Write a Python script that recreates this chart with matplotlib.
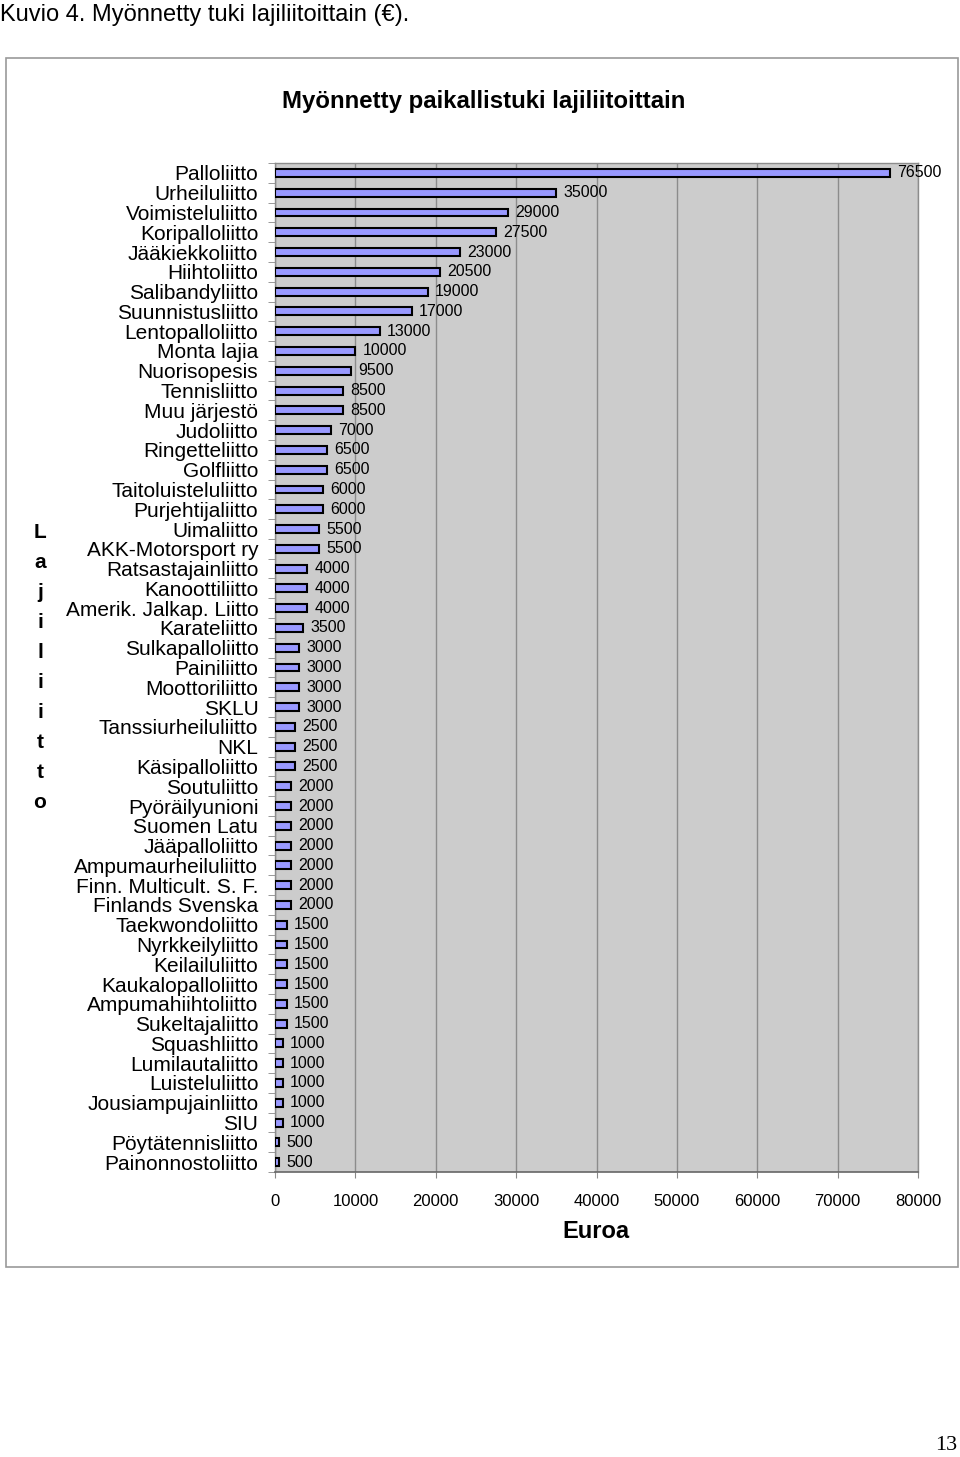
import matplotlib.pyplot as plt
import numpy as np
from matplotlib.patches import Rectangle

plt.rcParams["font.family"] = ["Liberation Sans", "DejaVu Sans"]

liitot = [
    "Palloliitto", "Urheiluliitto", "Voimisteluliitto", "Koripalloliitto",
    "Jääkiekkoliitto", "Hiihtoliitto", "Salibandyliitto", "Suunnistusliitto",
    "Lentopalloliitto", "Monta lajia", "Nuorisopesis", "Tennisliitto",
    "Muu järjestö", "Judoliitto", "Ringetteliitto", "Golfliitto",
    "Taitoluisteluliitto", "Purjehtijaliitto", "Uimaliitto", "AKK-Motorsport ry",
    "Ratsastajainliitto", "Kanoottiliitto", "Amerik. Jalkap. Liitto", "Karateliitto",
    "Sulkapalloliitto", "Painiliitto", "Moottoriliitto", "SKLU",
    "Tanssiurheiluliitto", "NKL", "Käsipalloliitto", "Soutuliitto",
    "Pyöräilyunioni", "Suomen Latu", "Jääpalloliitto", "Ampumaurheiluliitto",
    "Finn. Multicult. S. F.", "Finlands Svenska", "Taekwondoliitto", "Nyrkkeilyliitto",
    "Keilailuliitto", "Kaukalopalloliitto", "Ampumahiihtoliitto", "Sukeltajaliitto",
    "Squashliitto", "Lumilautaliitto", "Luisteluliitto", "Jousiampujainliitto",
    "SIU", "Pöytätennisliitto", "Painonnostoliitto",
]
tuki = [
    76500, 35000, 29000, 27500, 23000, 20500, 19000, 17000,
    13000, 10000, 9500, 8500, 8500, 7000, 6500, 6500,
    6000, 6000, 5500, 5500, 4000, 4000, 4000, 3500,
    3000, 3000, 3000, 3000, 2500, 2500, 2500, 2000,
    2000, 2000, 2000, 2000, 2000, 2000, 1500, 1500,
    1500, 1500, 1500, 1500, 1000, 1000, 1000, 1000,
    1000, 500, 500,
]
x_ticks = [0, 10000, 20000, 30000, 40000, 50000, 60000, 70000, 80000]


def main() -> None:
    fig = plt.figure(figsize=(9.6, 14.57), dpi=100)
    fig.patch.set_facecolor("white")

    # chart frame
    fig.patches.append(Rectangle((0.00625, 0.1304), 0.9917, 0.8298, transform=fig.transFigure,
                                 fill=False, edgecolor="#9a9a9a", linewidth=1.2))

    ax = fig.add_axes([0.2865, 0.1956, 0.6698, 0.6925])
    ax.set_facecolor("#cccccc")

    y = np.arange(len(liitot))
    ax.barh(y, tuki, height=0.4, color="#9999ff", edgecolor="black", linewidth=1.5, zorder=3)
    for yi, v in zip(y, tuki):
        ax.annotate(f"{v}", (v, yi), xytext=(5, 0), textcoords="offset points",
                    va="center", ha="left", fontsize=11.5, zorder=4)

    ax.set_xlim(0, 80000)
    ax.set_ylim(len(liitot) - 0.5, -0.5)
    ax.set_xticks(x_ticks)
    ax.set_xticklabels([str(t) for t in x_ticks], fontsize=12)
    ax.set_yticks(y)
    ax.set_yticklabels(liitot, fontsize=15)
    ax.set_yticks(np.arange(len(liitot) + 1) - 0.5, minor=True)
    ax.tick_params(axis="y", which="major", length=0, pad=12)
    ax.tick_params(axis="y", which="minor", length=5, color="#888888", direction="out")
    ax.tick_params(axis="x", length=4, color="#888888", pad=12)

    ax.grid(axis="x", color="#8c8c8c", linewidth=1.0, zorder=1)
    ax.set_axisbelow(True)
    for side in ["top", "right", "left"]:
        ax.spines[side].set_color("#8c8c8c")
        ax.spines[side].set_linewidth(1.0)
    ax.spines["bottom"].set_color("#666666")
    ax.spines["bottom"].set_linewidth(1.2)

    fig.text(0.504, 0.930, "Myönnetty paikallistuki lajiliitoittain", ha="center", va="center",
             fontsize=17.3, fontweight="bold")
    fig.text(0.621, 0.155, "Euroa", ha="center", va="center", fontsize=17, fontweight="bold")
    fig.text(0.0417, 0.5419, "\n".join("Lajiliitto"), ha="center", va="center",
             fontsize=15, fontweight="bold", linespacing=1.74)

    fig.text(0.0, 0.990, "Kuvio 4. Myönnetty tuki lajiliitoittain (€).", ha="left", va="center",
             fontsize=17)
    fig.text(0.997, 0.0082, "13", ha="right", va="center", fontsize=16, family="Liberation Serif")

    fig.savefig("out.png", dpi=100)
    plt.close(fig)


if __name__ == "__main__":
    main()
